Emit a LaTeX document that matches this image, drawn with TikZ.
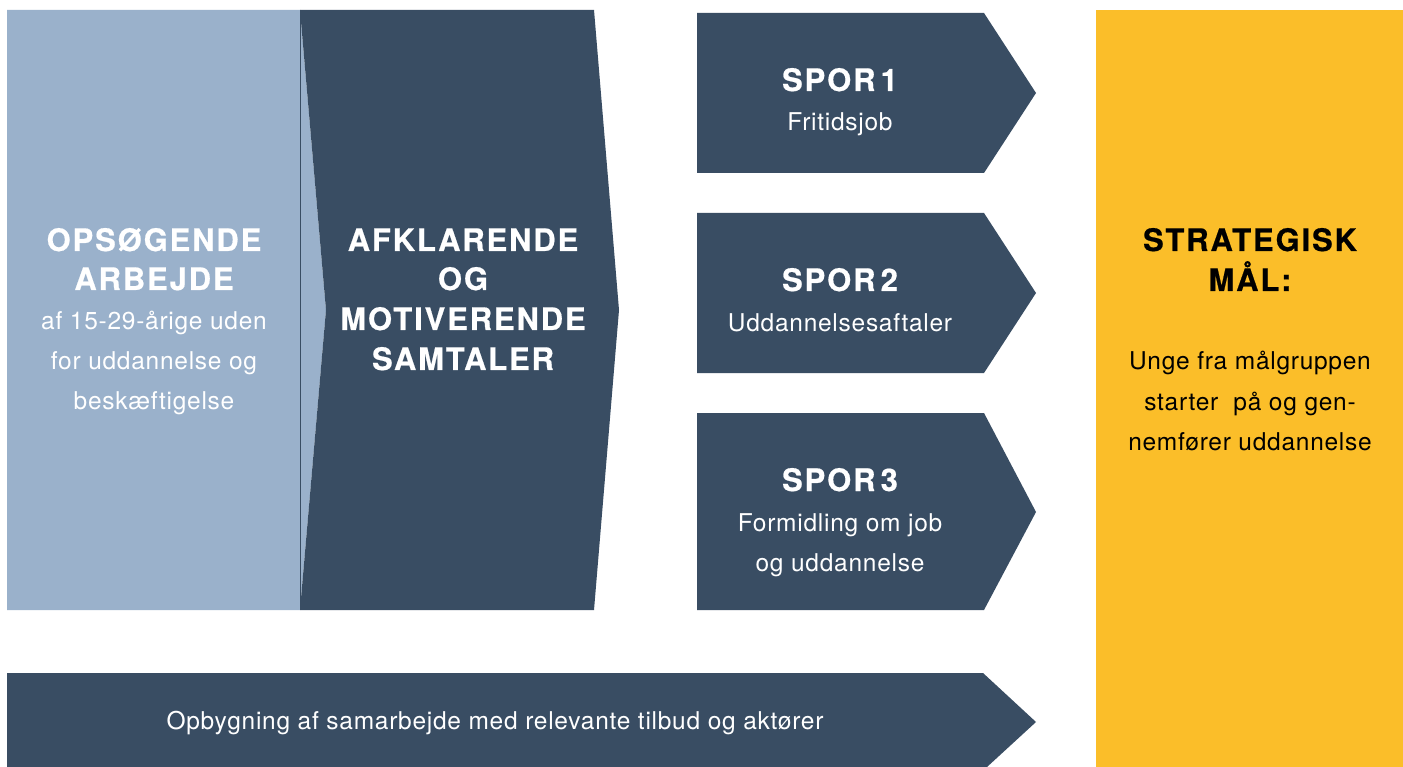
\documentclass[tikz,border=0pt]{standalone}
\usepackage{fontspec}
\setmainfont{TeX Gyre Heros}
\newfontfamily\hdfont[LetterSpace=6,FakeBold=0.6]{TeX Gyre Heros}
\newfontfamily\bdfont[LetterSpace=3]{TeX Gyre Heros}
\definecolor{navy}{HTML}{394D63}
\definecolor{lightblue}{HTML}{9AB1CB}
\definecolor{gold}{HTML}{FBBE29}
\tikzset{
  head/.style={anchor=base, inner sep=0pt, font=\hdfont\bfseries\fontsize{31}{36}\selectfont},
  body/.style={anchor=base, inner sep=0pt, font=\bdfont\fontsize{24.5}{30}\selectfont},
}
\begin{document}
\begin{tikzpicture}[x=1pt,y=-1pt]
\useasboundingbox[fill=white] (0,0) rectangle (1403,767);
% shapes
\fill[lightblue] (7,10) -- (300,10) -- (326,310) -- (300,610) -- (7,610) -- cycle;
\fill[navy] (300,10) -- (594,10) -- (619,310) -- (594,610) -- (300,610) -- (326,310) -- cycle;
\draw[navy, line width=0.8pt] (300,10) -- (300,610);
\fill[navy] (697,13) -- (984,13) -- (1036,93) -- (984,173) -- (697,173) -- cycle;
\fill[navy] (697,213) -- (984,213) -- (1036,293) -- (984,373) -- (697,373) -- cycle;
\fill[navy] (697,413) -- (984,413) -- (1036,512) -- (984,610) -- (697,610) -- cycle;
\fill[navy] (7,673) -- (983,673) -- (1036,722) -- (987,767) -- (7,767) -- cycle;
\fill[gold] (1096,10) rectangle (1403,767);
% left panel text
\node[head, white] (l1) at (154,251) {OPSØGENDE};
\node[head, white] (l2) at (154,290) {ARBEJDE};
\node[body, white] (l3) at (154,330) {af 15-29-årige uden};
\node[body, white] (l4) at (154,370) {for uddannelse og};
\node[body, white] (l5) at (154,409) {beskæftigelse};
% middle
\node[head, white] (m1) at (463,251) {AFKLARENDE};
\node[head, white] (m2) at (463,290) {OG};
\node[head, white] (m3) at (463,330) {MOTIVERENDE};
\node[head, white] (m4) at (463,370) {SAMTALER};
% spor
\node[head, white] (s1) at (840,91) {SPOR\,1};
\node[body, white] (s1b) at (840,131) {Fritidsjob};
\node[head, white] (s2) at (840,291) {SPOR\,2};
\node[body, white] (s2b) at (840,331) {Uddannelsesaftaler};
\node[head, white] (s3) at (840,491) {SPOR\,3};
\node[body, white] (s3b) at (840,531) {Formidling om job};
\node[body, white] (s3c) at (840,571) {og uddannelse};
% bottom
\node[body, white] (b1) at (495,729) {Opbygning af samarbejde med relevante tilbud og aktører};
% yellow
\node[head, black] (y1) at (1250,251) {STRATEGISK};
\node[head, black] (y2) at (1250,291) {MÅL:};
\node[body, black] (y3) at (1250,370) {Unge fra målgruppen};
\node[body, black] (y4) at (1250,410) {starter \ på og gen-};
\node[body, black] (y5) at (1250,450) {nemfører uddannelse};
\end{tikzpicture}
\end{document}
